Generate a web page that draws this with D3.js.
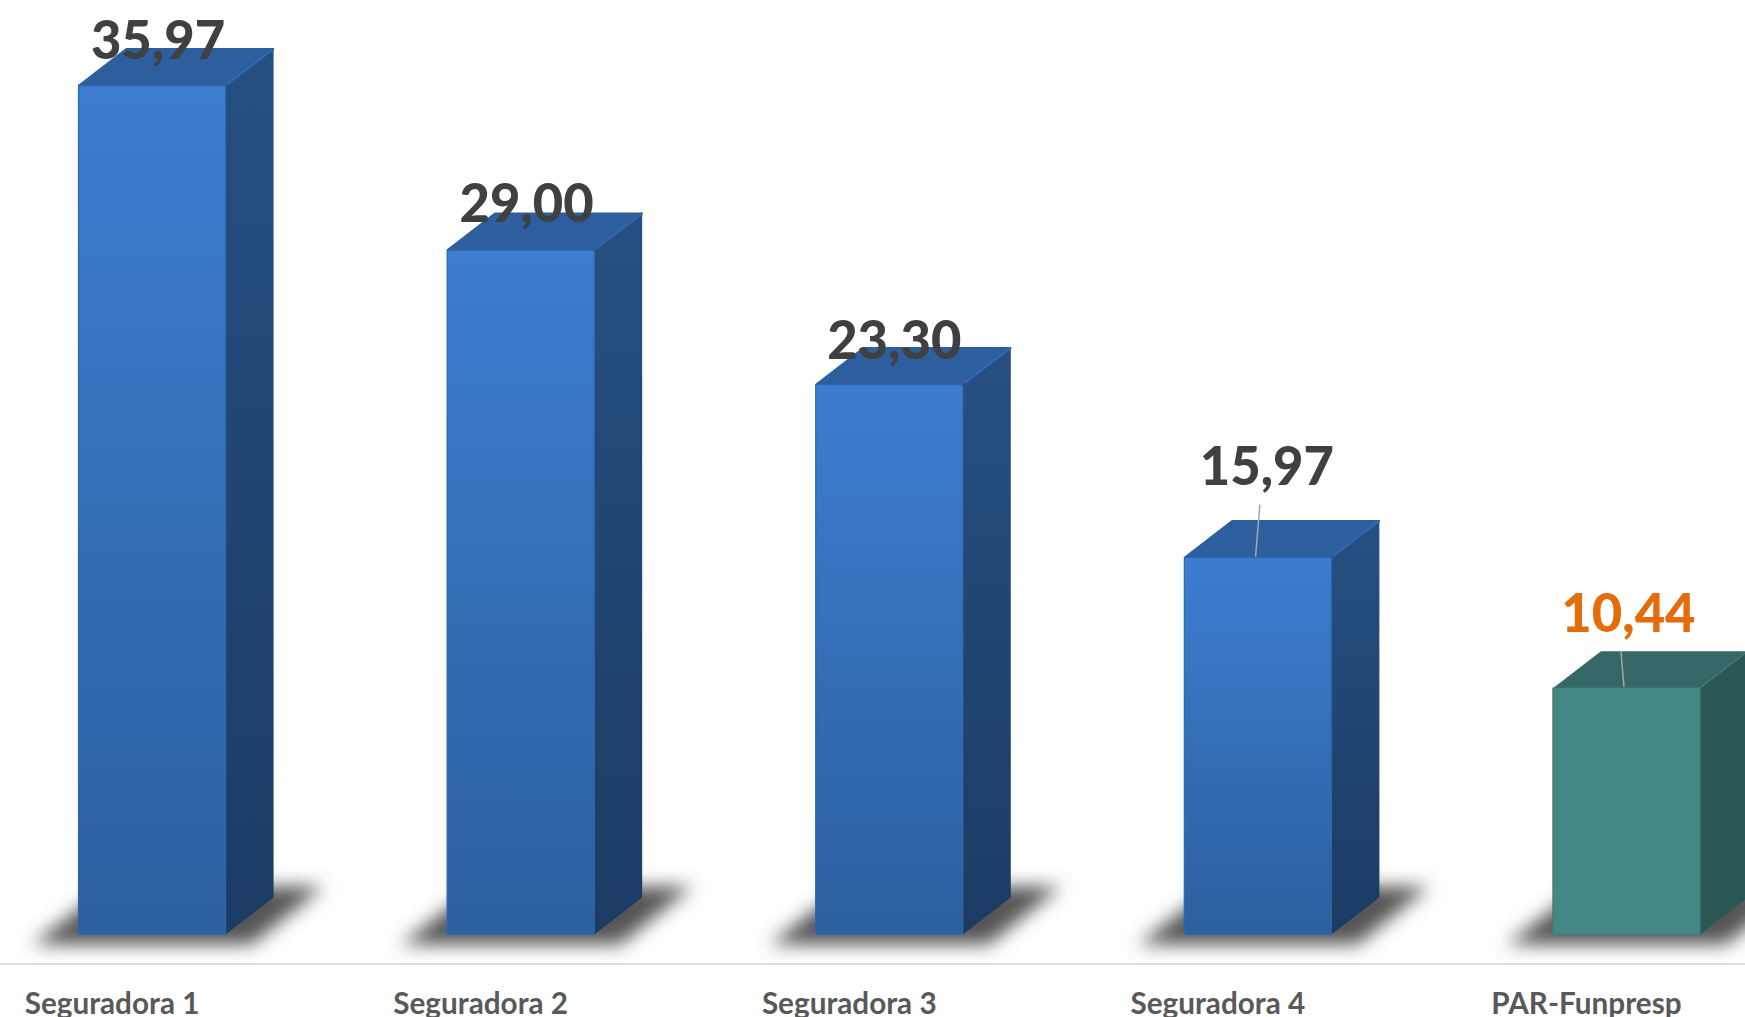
<!DOCTYPE html>
<html>
<head>
<meta charset="utf-8">
<script src="https://cdn.jsdelivr.net/npm/d3@7"></script>
<style>
  html, body { margin: 0; padding: 0; background: #fff; overflow: hidden; }
  svg { display: block; }
  text { font-family: Lato, "Open Sans", sans-serif; font-weight: 700; }
</style>
</head>
<body>
<svg id="chart" width="1745" height="1017"></svg>
<script>
// chart data
const categories = ["Seguradora 1", "Seguradora 2", "Seguradora 3", "Seguradora 4", "PAR-Funpresp"];
const values = [35.97, 29.00, 23.30, 15.97, 10.44];
const highlighted = [false, false, false, false, true];

// hand placed data labels, px from the middle/top of the bar front
const labelDx = [6, 6, 5, 9, 2];
const labelDy = [-27, -28, -26, -73, -56];
const leaderFrom = [null, null, null, [2, -53], [-5.5, -37]];

const width = 1745, height = 1017;
const baseY = 934.5;
const depthX = 48, depthY = 37;

const svg = d3.select("#chart");

const x = d3.scaleBand()
  .domain(categories)
  .range([78.5, 1700])
  .paddingInner(0.601);

const y = d3.scaleLinear()
  .domain([0, 36])
  .range([baseY, 85]);

const defs = svg.append("defs");

const blur = defs.append("filter")
  .attr("id", "floor-blur")
  .attr("x", "-30%").attr("y", "-80%")
  .attr("width", "160%").attr("height", "260%");
blur.append("feGaussianBlur").attr("stdDeviation", 9);

function gradient(id, top, bottom) {
  const g = defs.append("linearGradient")
    .attr("id", id)
    .attr("x1", 0).attr("y1", 0)
    .attr("x2", 0).attr("y2", 1);
  g.append("stop").attr("offset", "0%").attr("stop-color", top);
  g.append("stop").attr("offset", "100%").attr("stop-color", bottom);
}
gradient("front-blue", "#3C7DD0", "#2C5F9F");
gradient("side-blue", "#265082", "#1B3B63");

const colors = {
  blue: { front: "url(#front-blue)", side: "url(#side-blue)", top: "#2D5F9E", edge: "#2F66AC", rx: 2.5 },
  teal: { front: "#458784", side: "#2B5855", top: "#356866", edge: "#3F7C79", rx: 0 }
};
const colorOf = i => highlighted[i] ? colors.teal : colors.blue;

// baseline + category labels
svg.append("line")
  .attr("x1", 0).attr("x2", width)
  .attr("y1", 964).attr("y2", 964)
  .attr("stroke", "#DEDEDE")
  .attr("stroke-width", 2);

const axis = svg.append("g")
  .attr("transform", "translate(-40,964)")
  .call(d3.axisBottom(x).tickSize(0).tickPadding(0));
axis.select(".domain").remove();
axis.selectAll("text")
  .attr("y", 50)
  .attr("dy", 0)
  .attr("font-size", 29.7)
  .attr("fill", "#595959")
  .style("font-family", "Lato, sans-serif")
  .style("font-weight", 700);

// floor shadows go under all the bars
svg.append("g")
  .selectAll("path")
  .data(categories)
  .join("path")
  .attr("filter", "url(#floor-blur)")
  .attr("fill", "#555")
  .attr("d", d => {
    const a = x(d), b = x(d) + x.bandwidth();
    return d3.line()([
      [a - 46, baseY + 10], [b + 26, baseY + 10],
      [b + 98, baseY - 48], [a + 30, baseY - 48]
    ]) + "Z";
  });

const bars = svg.append("g")
  .selectAll("g")
  .data(categories)
  .join("g");

// top face
bars.append("path")
  .attr("fill", (d, i) => colorOf(i).top)
  .attr("stroke", (d, i) => colorOf(i).top)
  .attr("stroke-linejoin", "round")
  .attr("stroke-width", (d, i) => colorOf(i).rx ? 1.5 : 0)
  .attr("d", (d, i) => {
    const a = x(d), b = a + x.bandwidth(), t = y(values[i]);
    return d3.line()([[a, t], [a + depthX, t - depthY], [b + depthX, t - depthY], [b, t]]) + "Z";
  });

// right side
bars.append("path")
  .attr("fill", (d, i) => colorOf(i).side)
  .attr("d", (d, i) => {
    const b = x(d) + x.bandwidth(), t = y(values[i]);
    return d3.line()([[b, t], [b + depthX, t - depthY], [b + depthX, baseY - depthY], [b, baseY]]) + "Z";
  });

// lighter bevel on the diagonal edge, only the blue bars have it
bars.filter((d, i) => !highlighted[i]).append("line")
  .attr("x1", d => x(d) + x.bandwidth() + 2)
  .attr("x2", d => x(d) + x.bandwidth() + depthX)
  .attr("y1", (d) => y(values[categories.indexOf(d)]) - 2)
  .attr("y2", (d) => y(values[categories.indexOf(d)]) - depthY)
  .attr("stroke", "#2F66AC")
  .attr("stroke-width", 2.5);

// front
bars.append("rect")
  .attr("x", d => x(d))
  .attr("y", (d, i) => y(values[i]))
  .attr("width", x.bandwidth())
  .attr("height", (d, i) => baseY - y(values[i]))
  .attr("rx", (d, i) => colorOf(i).rx)
  .attr("fill", (d, i) => colorOf(i).front)
  .attr("stroke", (d, i) => colorOf(i).edge)
  .attr("stroke-width", 1.2);

// leader lines
svg.append("g")
  .selectAll("line")
  .data(categories.filter((d, i) => leaderFrom[i]))
  .join("line")
  .each(function(d) {
    const i = categories.indexOf(d);
    const cx = x(d) + x.bandwidth() / 2, t = y(values[i]);
    d3.select(this)
      .attr("x1", cx + leaderFrom[i][0]).attr("y1", t + leaderFrom[i][1])
      .attr("x2", cx + leaderFrom[i][0] + (i === 3 ? -4.3 : 3)).attr("y2", t - 1);
  })
  .attr("stroke", "#A6A6A6")
  .attr("stroke-width", 1.5);

// value labels, comma decimals as in the original
const fmt = d3.formatLocale({ decimal: ",", thousands: ".", grouping: [3], currency: ["", ""] }).format(".2f");

svg.append("g")
  .selectAll("text")
  .data(categories)
  .join("text")
  .attr("x", (d, i) => x(d) + x.bandwidth() / 2 + labelDx[i])
  .attr("y", (d, i) => y(values[i]) + labelDy[i])
  .attr("text-anchor", "middle")
  .attr("font-size", 52.5)
  .style("font-weight", 900)
  .attr("fill", (d, i) => highlighted[i] ? "#E46C0A" : "#404040")
  .text((d, i) => fmt(values[i]));
</script>
</body>
</html>
